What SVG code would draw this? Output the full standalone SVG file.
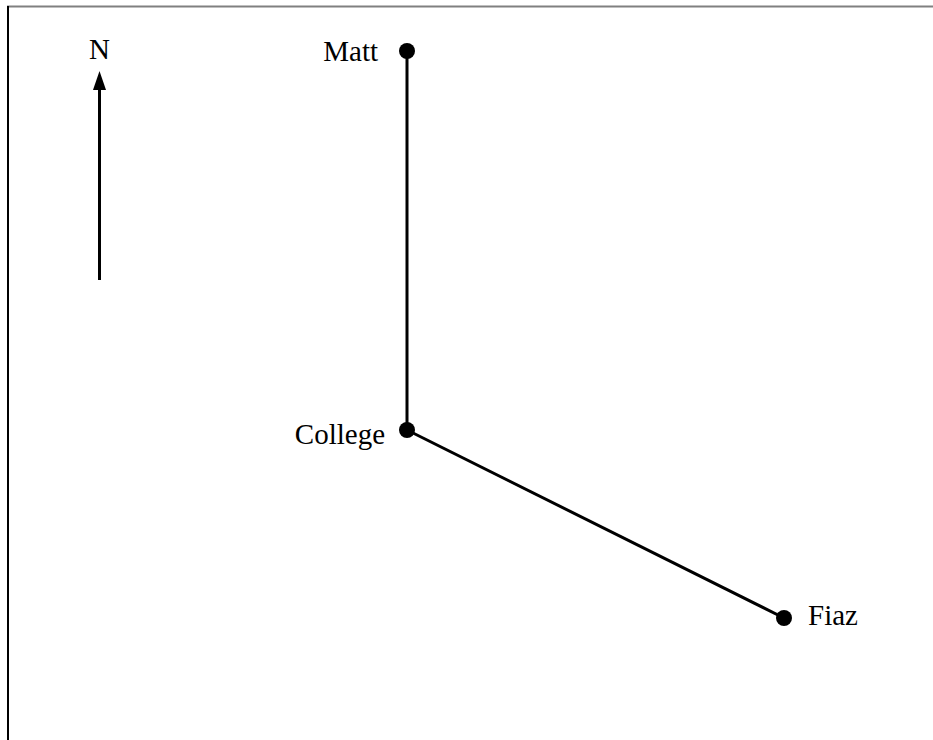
<svg xmlns="http://www.w3.org/2000/svg" width="933" height="740" viewBox="0 0 933 740">
<style>
text{font-family:"Liberation Serif","Times New Roman",serif;font-size:29px;fill:#000}
.edge{stroke:#000;stroke-width:3;fill:none}
.dot{fill:#000}
</style>
<rect width="933" height="740" fill="#fff"/>
<line x1="7" y1="6.5" x2="933" y2="6.5" stroke="#808080" stroke-width="2"/>
<line x1="8" y1="6" x2="8" y2="740" stroke="#000" stroke-width="2"/>
<g id="compass">
<line x1="99.5" y1="280" x2="99.5" y2="88" stroke="#000" stroke-width="3"/>
<path d="M99.5,71 L106,90 L93,90 z" fill="#000"/>
<text x="99.5" y="59" text-anchor="middle">N</text>
</g>
<g id="connectors">
<line class="edge" x1="407" y1="51" x2="407" y2="430"/>
<line class="edge" x1="407" y1="430" x2="784" y2="618" stroke-width="2.5"/>
</g>
<g id="matt">
<circle class="dot" cx="407" cy="51" r="8"/>
<text x="378" y="61" text-anchor="end">Matt</text>
</g>
<g id="college">
<circle class="dot" cx="407" cy="430" r="8"/>
<text x="385" y="444" text-anchor="end">College</text>
</g>
<g id="fiaz">
<circle class="dot" cx="784" cy="618" r="8"/>
<text x="808" y="625">Fiaz</text>
</g>
</svg>
